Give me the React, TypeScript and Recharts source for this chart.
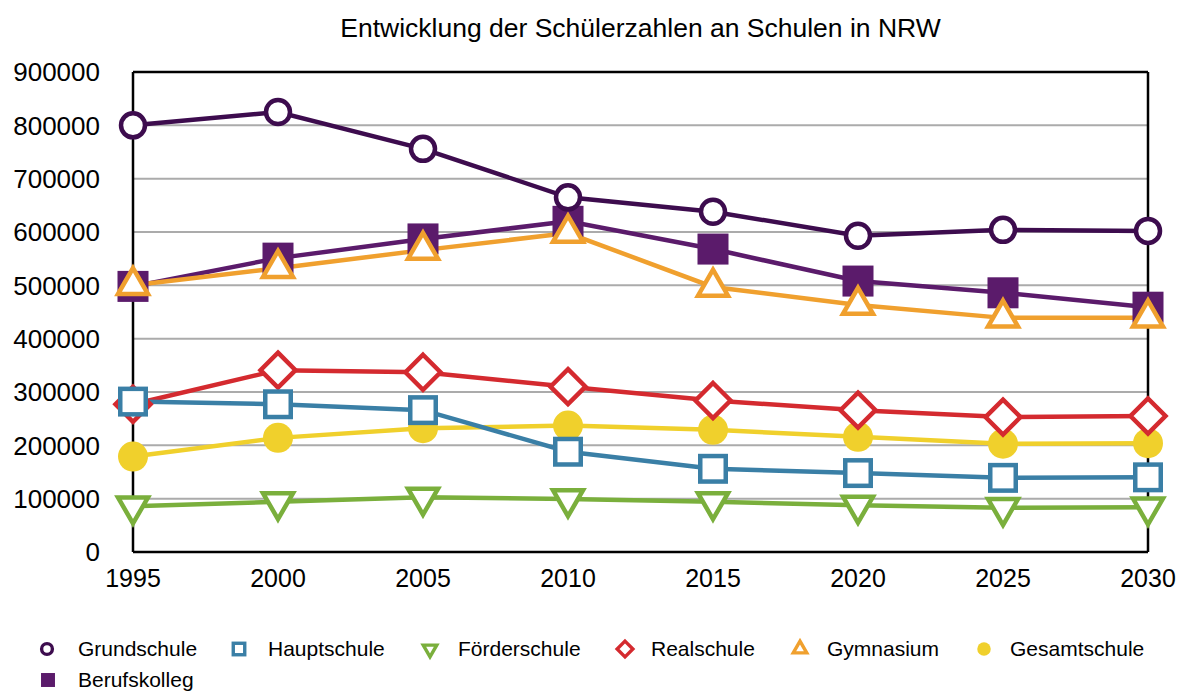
import React from "react";
import {
  LineChart,
  Line,
  XAxis,
  YAxis,
  CartesianGrid,
  ReferenceLine,
} from "recharts";

const years = [1995, 2000, 2005, 2010, 2015, 2020, 2025, 2030];
const grundschule = [800000, 825000, 756000, 665000, 638000, 593000, 604000, 602000];
const hauptschule = [282000, 277000, 266000, 188000, 156000, 148000, 139000, 140000];
const foerderschule = [86000, 94000, 102500, 99500, 94000, 87500, 83000, 84000];
const realschule = [277000, 341000, 337000, 310000, 284000, 266000, 253000, 255000];
const gymnasium = [500000, 532000, 566000, 598000, 497000, 463000, 439000, 439000];
const gesamtschule = [179000, 214000, 232000, 237000, 229000, 216000, 203000, 204000];
const berufskolleg = [498000, 551000, 587000, 620000, 568000, 508000, 486000, 459000];

const yTicks = [0, 100000, 200000, 300000, 400000, 500000, 600000, 700000, 800000, 900000];

const title = "Entwicklung der Schülerzahlen an Schulen in NRW";

const data = years.map((year, i) => ({
  year,
  grundschule: grundschule[i],
  hauptschule: hauptschule[i],
  foerderschule: foerderschule[i],
  realschule: realschule[i],
  gymnasium: gymnasium[i],
  gesamtschule: gesamtschule[i],
  berufskolleg: berufskolleg[i],
}));

type Kind =
  | "openCircle"
  | "openSquare"
  | "downTriangle"
  | "diamond"
  | "upTriangle"
  | "filledCircle"
  | "filledSquare";

const series: { key: string; name: string; color: string; kind: Kind }[] = [
  { key: "grundschule", name: "Grundschule", color: "#3d0c4e", kind: "openCircle" },
  { key: "hauptschule", name: "Hauptschule", color: "#3a7fa6", kind: "openSquare" },
  { key: "foerderschule", name: "Förderschule", color: "#7aaf3c", kind: "downTriangle" },
  { key: "realschule", name: "Realschule", color: "#d42a2f", kind: "diamond" },
  { key: "gymnasium", name: "Gymnasium", color: "#f0a02e", kind: "upTriangle" },
  { key: "gesamtschule", name: "Gesamtschule", color: "#f0d02c", kind: "filledCircle" },
  { key: "berufskolleg", name: "Berufskolleg", color: "#5b1b6b", kind: "filledSquare" },
];

// draw order (back to front)
const drawOrder = [
  "gesamtschule",
  "berufskolleg",
  "realschule",
  "hauptschule",
  "foerderschule",
  "gymnasium",
  "grundschule",
];

function marker(kind: Kind, color: string, cx: number, cy: number, s: number, sw: number, key?: any) {
  switch (kind) {
    case "openCircle":
      return <circle key={key} cx={cx} cy={cy} r={12 * s} fill="#fff" stroke={color} strokeWidth={sw} />;
    case "openSquare": {
      const h = 12.75 * s;
      return <rect key={key} x={cx - h} y={cy - h} width={2 * h} height={2 * h} fill="#fff" stroke={color} strokeWidth={sw} />;
    }
    case "filledSquare": {
      const h = 15.5 * s;
      return <rect key={key} x={cx - h} y={cy - h} width={2 * h} height={2 * h} fill={color} stroke="none" />;
    }
    case "filledCircle":
      return <circle key={key} cx={cx} cy={cy} r={15 * s} fill={color} stroke="none" />;
    case "diamond": {
      const h = 17.5 * s;
      return (
        <path key={key} d={`M${cx},${cy - h}L${cx + h},${cy}L${cx},${cy + h}L${cx - h},${cy}Z`} fill="#fff" stroke={color} strokeWidth={sw} />
      );
    }
    case "upTriangle": {
      const w = 15 * s;
      const t = 17.3 * s;
      const b = 8.7 * s;
      return (
        <path key={key} d={`M${cx},${cy - t}L${cx + w},${cy + b}L${cx - w},${cy + b}Z`} fill="#fff" stroke={color} strokeWidth={sw} />
      );
    }
    case "downTriangle": {
      const w = 15 * s;
      const t = 17.3 * s;
      const b = 8.7 * s;
      return (
        <path key={key} d={`M${cx},${cy + t}L${cx + w},${cy - b}L${cx - w},${cy - b}Z`} fill="#fff" stroke={color} strokeWidth={sw} />
      );
    }
  }
  return null;
}

const makeDot = (kind: Kind, color: string) => (props: any) => {
  const { cx, cy, index } = props;
  if (cx == null || cy == null) return <g key={`e${index}`} />;
  return marker(kind, color, cx, cy, 1, 4.5, `d${index}`);
};

const font = "'Liberation Sans', Arial, Helvetica, sans-serif";

const legendPos: Record<string, { ix: number; tx: number; y: number }> = {
  grundschule: { ix: 47, tx: 78, y: 649 },
  hauptschule: { ix: 239, tx: 268, y: 649 },
  foerderschule: { ix: 430, tx: 458, y: 649 },
  realschule: { ix: 625, tx: 651, y: 649 },
  gymnasium: { ix: 800, tx: 827, y: 649 },
  gesamtschule: { ix: 984, tx: 1010, y: 649 },
  berufskolleg: { ix: 48, tx: 78, y: 680 },
};

export default function App() {
  return (
    <div
      style={{
        position: "absolute",
        left: 0,
        top: 0,
        width: 1184,
        height: 691,
        background: "#fff",
        fontFamily: font,
      }}
    >
      <div
        style={{
          position: "absolute",
          left: 133,
          width: 1015,
          top: 8,
          height: 40,
          lineHeight: "40px",
          textAlign: "center",
          fontSize: 26.5,
          color: "#000",
        }}
      >
        {title}
      </div>
      <LineChart
        width={1184}
        height={691}
        data={data}
        margin={{ top: 72, right: 36, bottom: 99, left: 13 }}
        style={{ position: "absolute", left: 0, top: 0 }}
      >
        <CartesianGrid vertical={false} stroke="#ababab" strokeWidth={2} />
        <XAxis
          dataKey="year"
          type="number"
          domain={[1995, 2030]}
          ticks={years}
          allowDecimals={false}
          height={40}
          tickLine={false}
          tickSize={0}
          tickMargin={17}
          axisLine={{ stroke: "#000", strokeWidth: 2.5 }}
          tick={{ fill: "#000", fontSize: 25, fontFamily: font }}
          interval={0}
        />
        <YAxis
          type="number"
          domain={[0, 900000]}
          ticks={yTicks}
          width={120}
          tickLine={false}
          tickSize={0}
          tickMargin={33}
          axisLine={{ stroke: "#000", strokeWidth: 2.5 }}
          tick={{ fill: "#000", fontSize: 26, fontFamily: font }}
          interval={0}
        />
        <ReferenceLine y={900000} stroke="#000" strokeWidth={2.5} />
        <ReferenceLine x={2030} stroke="#000" strokeWidth={2.5} />
        {drawOrder.map((k) => {
          const s = series.find((x) => x.key === k)!;
          return (
            <Line
              key={s.key}
              dataKey={s.key}
              name={s.name}
              stroke={s.color}
              strokeWidth={4.5}
              type="linear"
              dot={makeDot(s.kind, s.color)}
              activeDot={false}
              isAnimationActive={false}
            />
          );
        })}
      </LineChart>
      {series.map((s) => {
        const p = legendPos[s.key];
        return (
          <React.Fragment key={s.key}>
            <svg width={24} height={24} style={{ position: "absolute", left: p.ix - 12, top: p.y - 12, display: "block" }}>
              {marker(s.kind, s.color, 12, 12, 0.45, 3.4)}
            </svg>
            <span
              style={{
                position: "absolute",
                left: p.tx,
                top: p.y - 14,
                fontSize: 21,
                color: "#000",
                lineHeight: "28px",
                whiteSpace: "nowrap",
              }}
            >
              {s.name}
            </span>
          </React.Fragment>
        );
      })}
    </div>
  );
}
